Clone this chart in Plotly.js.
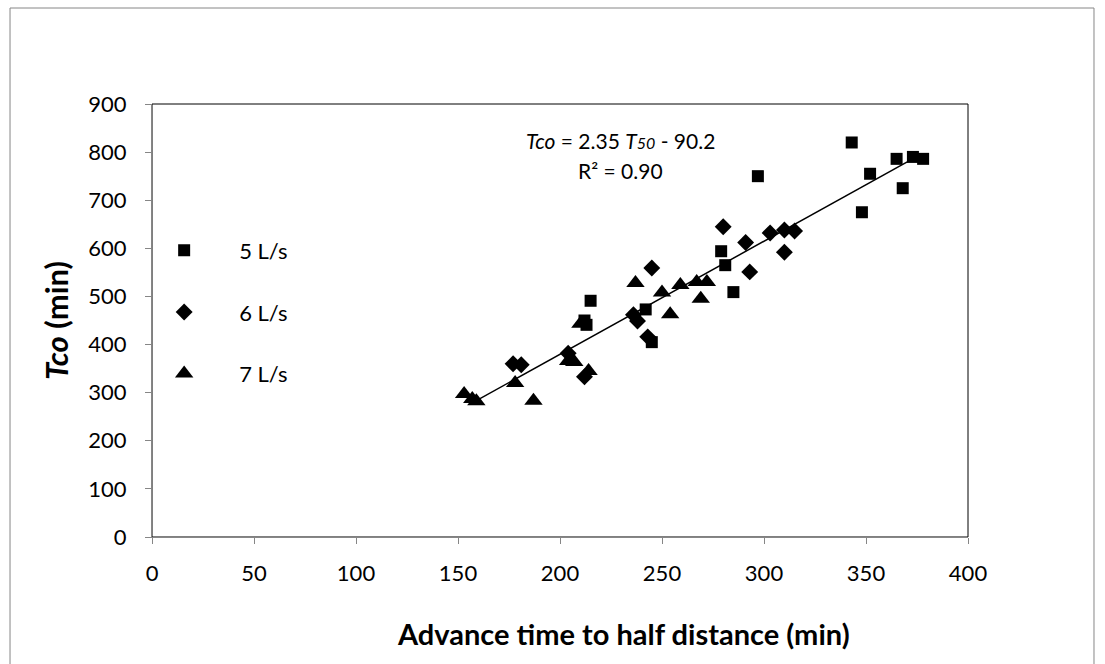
<!DOCTYPE html>
<html>
<head>
<meta charset="utf-8">
<script src="https://cdn.plot.ly/plotly-3.0.1.min.js"></script>
<style>
html,body{margin:0;padding:0;background:#fff;}
#chart{width:1105px;height:664px;}
</style>
</head>
<body>
<div id="chart"></div>
<script>
// 5 L/s
const x5 = [212, 213, 215, 242, 245, 279, 281, 285, 297, 343, 348, 352, 365, 368, 373, 378];
const y5 = [450, 441, 491, 473, 405, 594, 565, 509, 750, 820, 675, 755, 786, 725, 790, 786];
// 6 L/s
const x6 = [177, 181, 204, 212, 236, 238, 243, 245, 280, 291, 293, 303, 310, 310, 315];
const y6 = [360, 358, 382, 333, 462, 449, 416, 559, 645, 612, 551, 632, 638, 592, 636];
// 7 L/s
const x7 = [153, 157, 159, 178, 187, 204, 207, 214, 210, 237, 250, 254, 259, 267, 272, 269];
const y7 = [297, 287, 282, 320, 283, 366, 364, 345, 443, 528, 508, 463, 524, 530, 530, 495];
// Fitted trendline: Tco = 2.35 T50 - 90.2
const slope = 2.35;
const intercept = -90.2;
const trendX = [159, 372];
const trendY = trendX.map(v => slope * v + intercept);

const seriesNames = ["5 L/s", "6 L/s", "7 L/s"];
const xTicks = [0, 50, 100, 150, 200, 250, 300, 350, 400];
const yTicks = [0, 100, 200, 300, 400, 500, 600, 700, 800, 900];

const FONT = "Lato, 'Open Sans', sans-serif";
const axisGray = "#868686";

const traces = [
  {x: trendX, y: trendY, mode: "lines", line: {color: "#000", width: 1.5}, showlegend: false, hoverinfo: "skip"},
  {x: x5, y: y5, mode: "markers", name: seriesNames[0], legendgroup: "a",
   marker: {symbol: "square", size: 12, color: "#000"}},
  {x: x6, y: y6, mode: "markers", name: seriesNames[1], legendgroup: "b",
   marker: {symbol: "diamond", size: 13, color: "#000"}},
  {x: x7, y: y7, mode: "markers", name: seriesNames[2], legendgroup: "c",
   marker: {symbol: "triangle-up", size: 16, color: "#000"}}
];

const layout = {
  width: 1105, height: 664,
  margin: {l: 152, r: 137, t: 104, b: 127},
  paper_bgcolor: "#fff", plot_bgcolor: "#fff",
  font: {family: FONT, size: 22, color: "#000"},
  showlegend: true,
  legend: {x: -0.028, y: 0.71, xanchor: "left", yanchor: "top",
           bgcolor: "rgba(0,0,0,0)", font: {family: FONT, size: 22, color: "#000"},
           itemwidth: 100, tracegroupgap: 30, traceorder: "grouped"},
  xaxis: {
    range: [0, 400], tickvals: xTicks, ticktext: xTicks.map(String),
    showgrid: false, zeroline: false, showline: true, linecolor: axisGray, linewidth: 1,
    ticks: "outside", ticklen: 6, tickcolor: axisGray, tickfont: {family: FONT, size: 22},
    ticklabelstandoff: 11
  },
  yaxis: {
    range: [0, 900], tickvals: yTicks, ticktext: yTicks.map(String),
    showgrid: false, zeroline: false, showline: true, linecolor: axisGray, linewidth: 1,
    ticks: "outside", ticklen: 6, tickcolor: axisGray, tickfont: {family: FONT, size: 22},
    ticklabelstandoff: 14,
    title: {text: "<b><i>Tco</i> (min)</b>", font: {family: FONT, size: 31}, standoff: 10}
  },
  shapes: [
    {type: "rect", xref: "paper", yref: "paper", x0: 0, x1: 1, y0: 0, y1: 1,
     line: {color: "#000", width: 1}, layer: "below"},
    {type: "rect", xref: "paper", yref: "paper", x0: -0.174, x1: 1.1544, y0: -0.4, y1: 1.2217,
     line: {color: axisGray, width: 1}, layer: "below"}
  ],
  annotations: [
    {xref: "paper", yref: "paper", x: 0.574, y: 0.916, xanchor: "center", yanchor: "middle", showarrow: false,
     text: "<i>Tco</i> = 2.35 <i>T<span style='font-size:16px'>50</span></i> - 90.2", font: {family: FONT, size: 21}},
    {xref: "paper", yref: "paper", x: 0.574, y: 0.847, xanchor: "center", yanchor: "middle", showarrow: false,
     text: "R² = 0.90", font: {family: FONT, size: 21}},
    {xref: "paper", yref: "paper", x: 0.578, y: -0.224, xanchor: "center", yanchor: "middle", showarrow: false,
     text: "<b>Advance time to half distance (min)</b>", font: {family: FONT, size: 29}}
  ]
};

Plotly.newPlot("chart", traces, layout, {displayModeBar: false, staticPlot: true});
</script>
</body>
</html>
